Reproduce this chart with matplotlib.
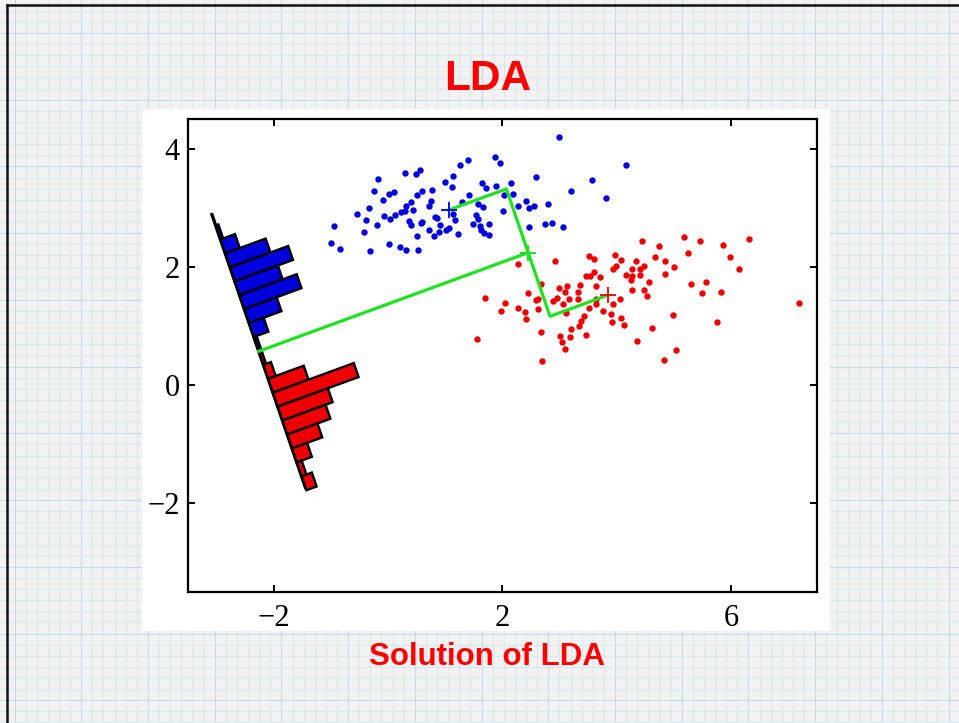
import numpy as np
import matplotlib
matplotlib.use("Agg")
import matplotlib.pyplot as plt
from matplotlib.patches import Polygon, Rectangle
from matplotlib.lines import Line2D

# ---------------- data ----------------
blue_x = [2.99, 4.16, 3.56, 3.81, 3.20, 2.59, 1.87, 1.95, 1.40, 1.26,
          1.13, 0.99, 1.12, 0.56, 0.49, 0.29, -0.18, -0.24, 0.02, 0.10,
          -0.09, -0.34, -0.55, -0.38, -0.20, -0.07, 0.03, 0.12, 0.22, 0.29,
          0.32, 0.40, 0.44, 0.50, 0.60, 0.76, 0.75, 0.71, 0.82, 0.85,
          0.36, 0.40, 0.57, 0.60, 0.71, 0.81, 0.89, 0.91, 1.02, 1.07,
          1.17, 1.13, 1.22, 0.50, -0.43, -0.94, -1.00, -0.84, -0.32, 0.02,
          0.21, 0.31, 0.53, 1.30, 1.41, 1.65, 1.72, 1.88, 2.03, 2.15,
          2.18, 1.58, 1.66, 1.53, 1.58, 1.49, 1.61, 1.77, 1.63, 1.68,
          1.77, 2.01, 2.28, 2.41, 2.47, 2.55, 2.80, 2.47, 2.74, 2.86, 3.06]
blue_y = [4.19, 3.73, 3.47, 3.16, 3.28, 3.52, 3.86, 3.75, 3.81, 3.73,
          3.54, 3.44, 3.35, 3.63, 3.57, 3.58, 3.49, 3.28, 3.24, 3.27,
          3.13, 3.00, 2.89, 2.80, 2.71, 2.86, 2.81, 2.87, 2.92, 2.94,
          3.03, 3.10, 2.96, 3.21, 3.28, 3.30, 3.11, 3.03, 2.85, 2.82,
          2.78, 2.71, 2.74, 2.76, 2.63, 2.52, 2.59, 2.71, 2.63, 2.65,
          2.79, 2.89, 2.55, 2.52, 2.59, 2.69, 2.40, 2.30, 2.26, 2.39,
          2.33, 2.29, 2.28, 3.10, 3.21, 3.41, 3.33, 3.37, 3.21, 3.41,
          3.23, 3.06, 3.01, 2.88, 2.81, 2.73, 2.69, 2.72, 2.62, 2.58,
          2.54, 2.94, 3.03, 3.12, 2.99, 3.03, 3.06, 2.68, 2.72, 2.74, 2.67]

red_x = [7.19, 6.31, 5.85, 5.98, 6.14, 5.56, 5.30, 5.49, 5.82, 5.75,
         5.45, 5.18, 5.24, 4.73, 4.44, 4.66, 4.84, 5.00, 4.84, 4.57,
         4.47, 4.52, 4.27, 4.33, 4.48, 4.40, 4.27, 4.16, 4.26, 4.24,
         4.40, 3.97, 4.08, 3.98, 3.93, 3.52, 3.60, 3.60, 3.53, 3.46,
         3.70, 3.63, 2.92, 2.28, 2.68, 2.44, 2.98, 3.13, 3.09, 3.36,
         3.32, 2.96, 3.17, 3.32, 2.89, 2.58, 2.63, 2.62, 2.40, 2.28,
         2.41, 2.04, 1.98, 1.69, 1.55, 2.68, 2.69, 3.00, 3.04, 3.10,
         3.18, 3.20, 3.34, 3.38, 3.43, 3.46, 3.52, 3.64, 3.63, 3.76,
         3.89, 3.92, 3.94, 4.05, 4.07, 4.12, 4.36, 4.61, 4.98, 5.04,
         4.83, 3.06, 3.11]
red_y = [1.38, 2.47, 2.37, 2.16, 1.97, 1.74, 1.71, 1.55, 1.57, 1.07,
         2.43, 2.50, 2.23, 2.36, 2.43, 2.16, 2.09, 2.00, 1.88, 1.74,
         1.61, 1.51, 1.60, 2.10, 2.02, 1.97, 1.96, 1.87, 1.84, 1.77,
         1.87, 2.20, 2.12, 2.01, 1.96, 2.19, 2.13, 1.91, 1.85, 1.85,
         1.82, 1.67, 2.09, 2.04, 1.71, 1.56, 1.65, 1.68, 1.58, 1.69,
         1.57, 1.48, 1.46, 1.46, 1.42, 1.44, 1.46, 1.28, 1.24, 1.30,
         1.12, 1.39, 1.26, 1.47, 0.78, 0.89, 0.41, 0.83, 0.72, 0.61,
         0.82, 0.94, 1.00, 1.08, 1.17, 0.85, 1.30, 1.37, 1.46, 1.26,
         1.21, 1.07, 1.37, 1.45, 1.13, 1.01, 0.74, 0.96, 1.18, 0.60,
         0.42, 1.37, 1.22]

blue_mean = (1.06, 2.96)
red_mean = (3.84, 1.52)

lda_angle_deg = 19.5          # direction of the discriminant w
axis_start = (-3.09, 2.91)    # top end of the projection axis
axis_length = 4.95
bin_width = 0.25
first_bin_offset = 0.474

blue_hist = [0.05, 0.27, 0.75, 1.08, 0.80, 1.06, 0.60, 0.27, 0.05]
blue_first_bin = -1
red_hist = [0.05, 0.14, 0.66, 1.50, 0.93, 0.80, 0.56, 0.28, 0.09, 0.19]
red_first_bin = 8

x_ticks = [-2, 2, 6]
y_ticks = [-2, 0, 2, 4]
title_text = "LDA"
caption_text = "Solution of LDA"

# ---------------- figure / slide background ----------------
W, H = 959, 723
fig = plt.figure(figsize=(W / 100, H / 100), dpi=100)
fig.patch.set_facecolor("#f2f2f2")

bg = fig.add_axes([0, 0, 1, 1])
bg.set_xlim(0, W)
bg.set_ylim(H, 0)
bg.axis("off")
step = 11.12
k = 0
while 14.5 + k * step < W:
    xx = 14.5 + k * step
    bg.axvline(xx, color="#c3dbe7" if k % 6 == 0 else "#d9e8ef", lw=0.8, zorder=0)
    k += 1
k = 0
while 10.8 + k * step < H:
    yy = 10.8 + k * step
    bg.axhline(yy, color="#c3dbe7" if (k - 2) % 6 == 0 else "#d9e8ef", lw=0.8, zorder=0)
    k += 1
bg.add_patch(Rectangle((142, 109), 688, 522, facecolor="white", edgecolor="none", zorder=1))
bg.add_line(Line2D([7, 7], [5, H], color="#111111", lw=1.8, zorder=2))
bg.add_line(Line2D([7, W], [5, 5], color="#111111", lw=1.8, zorder=2))

fig.text(0.5083, 0.8755, title_text, color="#ff0000", fontsize=30.5,
         fontweight="bold", family="Liberation Sans", ha="center", va="baseline")
fig.text(0.5075, 0.0802, caption_text, color="#ff0000", fontsize=22.5,
         fontweight="bold", family="Liberation Sans", ha="center", va="baseline")

# ---------------- main axes ----------------
ax = fig.add_axes([0.1960, 0.1812, 0.6559, 0.6542])
ax.set_xlim(-3.5, 7.5)
ax.set_ylim(-3.5, 4.5)
ax.set_xticks(x_ticks)
ax.set_yticks(y_ticks)
ax.tick_params(direction="in", length=5, width=1.4, top=True, right=True,
               labelsize=22, pad=6)
ax.tick_params(axis="x", pad=9)
for lab in ax.get_xticklabels() + ax.get_yticklabels():
    lab.set_family("Liberation Serif")
for sp in ax.spines.values():
    sp.set_linewidth(1.6)

blue_c = "#0000dd"
red_c = "#ee0000"
green_c = "#1ee31e"

ax.plot(blue_x, blue_y, "o", ms=4.6, color=blue_c, mec="none", zorder=3)
ax.plot(red_x, red_y, "o", ms=4.6, color=red_c, mec="none", zorder=3)

th = np.deg2rad(lda_angle_deg)
w = np.array([np.cos(th), np.sin(th)])
u = np.array([np.sin(th), -np.cos(th)])
mb = np.array(blue_mean)
mr = np.array(red_mean)
mid = (mb + mr) / 2
cb = mid + np.dot(mb - mid, u) * u
cr = mid + np.dot(mr - mid, u) * u
S = np.array(axis_start)
Q = S + np.dot(mid - S, u) * u

# projection axis line
E = S + axis_length * u
ax.plot([S[0], E[0]], [S[1], E[1]], color="black", lw=2.4, zorder=4,
        solid_capstyle="butt")

def draw_hist(vals, first, color):
    for i, h in enumerate(vals):
        b = first + i
        t0 = first_bin_offset + b * bin_width
        t1 = t0 + bin_width
        p0 = S + t0 * u
        p1 = S + t1 * u
        verts = [p0, p1, p1 + h * w, p0 + h * w]
        ax.add_patch(Polygon(verts, closed=True, facecolor=color,
                             edgecolor="black", lw=1.7, zorder=5,
                             joinstyle="miter"))

draw_hist(blue_hist, blue_first_bin, blue_c)
draw_hist(red_hist, red_first_bin, red_c)

# green construction lines
ax.plot([mb[0], cb[0], mid[0], cr[0], mr[0]],
        [mb[1], cb[1], mid[1], cr[1], mr[1]], color=green_c, lw=2.3, zorder=6)
ax.plot([mid[0], Q[0]], [mid[1], Q[1]], color=green_c, lw=2.3, zorder=6)

ax.plot(*mb, "+", ms=12, mew=1.3, color=blue_c, zorder=7)
ax.plot(*mr, "+", ms=12, mew=1.3, color=red_c, zorder=7)
ax.plot(*mid, "+", ms=12, mew=1.5, color=green_c, zorder=7)

fig.savefig("out.png", dpi=100)
